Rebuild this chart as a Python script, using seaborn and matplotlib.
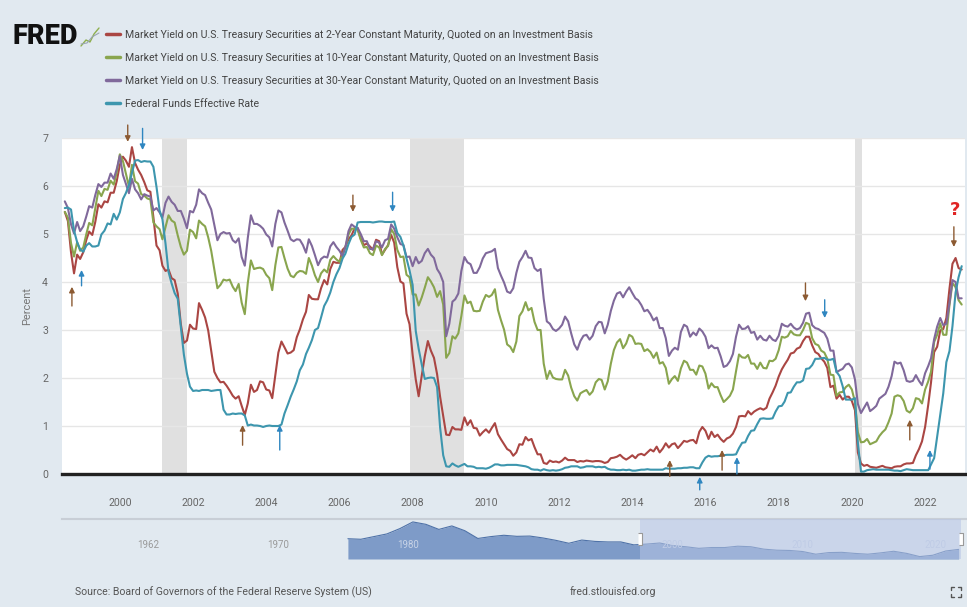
import numpy as np
import pandas as pd
import seaborn as sns
import matplotlib.pyplot as plt
import matplotlib.dates as mdates
from matplotlib.lines import Line2D

# -----------------------------
# monthly values, Jul 1998 .. Jan 2023 (percent)
# -----------------------------
start_month = "1998-07-01"

y2 = [5.46, 5.27, 4.62, 4.18, 4.57, 4.48,
      4.62, 4.88, 5.05, 4.98, 5.25, 5.62, 5.55, 5.68, 5.66, 5.86, 5.86, 6.10,
      6.44, 6.61, 6.53, 6.40, 6.81, 6.48, 6.34, 6.23, 6.08, 5.91, 5.88, 5.35,
      4.76, 4.66, 4.34, 4.23, 4.26, 4.08, 4.04, 3.76, 3.12, 2.73, 2.78, 3.11,
      3.03, 3.02, 3.56, 3.42, 3.26, 2.99, 2.56, 2.13, 2.00, 1.91, 1.92, 1.84,
      1.74, 1.63, 1.57, 1.62, 1.42, 1.23, 1.47, 1.86, 1.71, 1.75, 1.93, 1.91,
      1.76, 1.74, 1.58, 2.07, 2.53, 2.76, 2.64, 2.51, 2.53, 2.58, 2.85, 3.01,
      3.22, 3.38, 3.73, 3.65, 3.64, 3.64, 3.87, 4.04, 3.95, 4.27, 4.42, 4.40,
      4.40, 4.67, 4.73, 4.89, 4.97, 5.12, 5.12, 4.90, 4.77, 4.80, 4.74, 4.67,
      4.88, 4.85, 4.57, 4.67, 4.77, 4.98, 4.82, 4.31, 4.01, 3.97, 3.34, 3.12,
      2.48, 1.97, 1.62, 2.05, 2.45, 2.77, 2.57, 2.42, 2.08, 1.61, 1.21, 0.82,
      0.81, 0.98, 0.93, 0.93, 0.92, 1.18, 1.02, 1.12, 0.96, 0.95, 0.80, 0.87,
      0.93, 0.86, 0.96, 1.06, 0.83, 0.72, 0.62, 0.52, 0.48, 0.38, 0.45, 0.62,
      0.61, 0.77, 0.70, 0.73, 0.56, 0.41, 0.41, 0.23, 0.21, 0.28, 0.25, 0.26,
      0.24, 0.28, 0.34, 0.29, 0.29, 0.29, 0.25, 0.27, 0.26, 0.28, 0.27, 0.26,
      0.27, 0.27, 0.26, 0.23, 0.25, 0.33, 0.34, 0.36, 0.40, 0.34, 0.30, 0.34,
      0.39, 0.33, 0.40, 0.42, 0.39, 0.45, 0.51, 0.47, 0.57, 0.45, 0.53, 0.64,
      0.55, 0.62, 0.64, 0.54, 0.61, 0.69, 0.67, 0.70, 0.71, 0.64, 0.88, 0.98,
      0.90, 0.73, 0.88, 0.77, 0.82, 0.73, 0.67, 0.74, 0.77, 0.84, 0.98, 1.20,
      1.21, 1.20, 1.31, 1.24, 1.30, 1.34, 1.37, 1.34, 1.38, 1.57, 1.70, 1.84,
      2.03, 2.18, 2.28, 2.38, 2.51, 2.53, 2.61, 2.64, 2.77, 2.86, 2.86, 2.68,
      2.54, 2.50, 2.41, 2.34, 2.21, 1.81, 1.84, 1.57, 1.65, 1.55, 1.61, 1.61,
      1.52, 1.33, 0.45, 0.22, 0.17, 0.19, 0.15, 0.14, 0.13, 0.15, 0.17, 0.14,
      0.13, 0.12, 0.15, 0.16, 0.16, 0.20, 0.22, 0.22, 0.23, 0.39, 0.52, 0.68,
      0.98, 1.44, 1.91, 2.54, 2.65, 2.99, 3.02, 3.25, 3.86, 4.38, 4.50, 4.29,
      4.26]

y10 = [5.46, 5.34, 4.81, 4.53, 4.83, 4.65,
       4.72, 5.00, 5.23, 5.18, 5.54, 5.90, 5.79, 5.94, 5.92, 6.11, 6.03, 6.28,
       6.66, 6.52, 6.26, 5.99, 6.44, 6.10, 6.05, 5.83, 5.80, 5.74, 5.72, 5.24,
       5.16, 5.10, 4.89, 5.14, 5.39, 5.28, 5.24, 4.97, 4.73, 4.57, 4.65, 5.09,
       5.04, 4.91, 5.28, 5.21, 5.16, 4.93, 4.65, 4.26, 3.87, 3.94, 4.05, 4.03,
       4.05, 3.90, 3.81, 3.96, 3.57, 3.33, 3.98, 4.45, 4.27, 4.29, 4.30, 4.27,
       4.15, 4.08, 3.83, 4.35, 4.72, 4.73, 4.50, 4.28, 4.13, 4.10, 4.19, 4.23,
       4.22, 4.17, 4.50, 4.34, 4.14, 4.00, 4.18, 4.26, 4.20, 4.46, 4.54, 4.47,
       4.42, 4.57, 4.72, 4.99, 5.11, 5.11, 5.09, 4.88, 4.72, 4.73, 4.60, 4.56,
       4.76, 4.72, 4.56, 4.69, 4.75, 5.10, 5.00, 4.67, 4.52, 4.53, 4.15, 4.10,
       3.74, 3.74, 3.51, 3.68, 3.88, 4.10, 4.01, 3.89, 3.69, 3.81, 3.53, 2.42,
       2.52, 2.87, 2.82, 2.93, 3.29, 3.72, 3.56, 3.59, 3.40, 3.39, 3.40, 3.59,
       3.73, 3.69, 3.73, 3.85, 3.42, 3.20, 3.01, 2.70, 2.65, 2.54, 2.76, 3.29,
       3.39, 3.58, 3.41, 3.46, 3.17, 3.00, 3.00, 2.30, 1.98, 2.15, 2.01, 1.98,
       1.97, 1.97, 2.17, 2.05, 1.80, 1.62, 1.53, 1.68, 1.72, 1.75, 1.65, 1.72,
       1.91, 1.98, 1.96, 1.76, 1.93, 2.30, 2.58, 2.74, 2.81, 2.62, 2.72, 2.90,
       2.86, 2.71, 2.72, 2.71, 2.56, 2.60, 2.54, 2.42, 2.53, 2.30, 2.33, 2.21,
       1.88, 1.98, 2.04, 1.94, 2.20, 2.36, 2.32, 2.17, 2.17, 2.07, 2.26, 2.24,
       2.09, 1.78, 1.89, 1.81, 1.81, 1.64, 1.50, 1.56, 1.63, 1.76, 2.14, 2.49,
       2.43, 2.42, 2.48, 2.30, 2.30, 2.19, 2.32, 2.21, 2.20, 2.36, 2.35, 2.40,
       2.58, 2.86, 2.84, 2.87, 2.98, 2.91, 2.89, 2.89, 3.00, 3.15, 3.12, 2.83,
       2.71, 2.68, 2.57, 2.53, 2.40, 2.07, 2.06, 1.63, 1.70, 1.71, 1.81, 1.86,
       1.76, 1.50, 0.87, 0.66, 0.67, 0.73, 0.62, 0.65, 0.68, 0.79, 0.87, 0.93,
       1.08, 1.26, 1.61, 1.64, 1.62, 1.52, 1.32, 1.28, 1.37, 1.58, 1.56, 1.47,
       1.76, 1.93, 2.13, 2.75, 2.90, 3.14, 2.90, 2.90, 3.52, 3.98, 3.89, 3.62,
       3.53]

y30 = [5.68, 5.54, 5.20, 5.01, 5.25, 5.06,
       5.16, 5.37, 5.58, 5.55, 5.81, 6.04, 5.98, 6.07, 6.07, 6.26, 6.15, 6.35,
       6.63, 6.23, 6.05, 5.85, 6.15, 5.93, 5.85, 5.72, 5.83, 5.80, 5.78, 5.49,
       5.54, 5.45, 5.34, 5.65, 5.78, 5.67, 5.61, 5.48, 5.48, 5.32, 5.12, 5.48,
       5.45, 5.61, 5.93, 5.85, 5.81, 5.65, 5.51, 5.19, 4.87, 5.00, 5.04, 5.01,
       5.02, 4.87, 4.82, 4.91, 4.52, 4.34, 4.92, 5.39, 5.21, 5.21, 5.17, 5.11,
       4.99, 4.93, 4.74, 5.21, 5.49, 5.45, 5.24, 5.07, 4.89, 4.85, 4.89, 4.88,
       4.77, 4.61, 4.89, 4.75, 4.56, 4.35, 4.48, 4.53, 4.51, 4.74, 4.83, 4.73,
       4.65, 4.54, 4.73, 5.06, 5.20, 5.15, 5.13, 5.00, 4.85, 4.85, 4.69, 4.68,
       4.85, 4.82, 4.72, 4.87, 4.90, 5.20, 5.11, 4.93, 4.79, 4.77, 4.52, 4.53,
       4.33, 4.52, 4.39, 4.44, 4.60, 4.69, 4.57, 4.50, 4.27, 4.17, 4.00, 2.87,
       3.13, 3.59, 3.64, 3.76, 4.23, 4.52, 4.41, 4.37, 4.19, 4.19, 4.31, 4.49,
       4.60, 4.62, 4.64, 4.69, 4.29, 4.13, 3.99, 3.80, 3.77, 3.87, 4.19, 4.42,
       4.52, 4.65, 4.51, 4.50, 4.29, 4.23, 4.27, 3.65, 3.18, 3.13, 3.02, 2.98,
       3.03, 3.11, 3.28, 3.18, 2.93, 2.70, 2.59, 2.77, 2.88, 2.90, 2.80, 2.88,
       3.08, 3.17, 3.16, 2.93, 3.11, 3.40, 3.61, 3.76, 3.79, 3.68, 3.80, 3.89,
       3.77, 3.66, 3.62, 3.52, 3.39, 3.42, 3.33, 3.20, 3.26, 3.04, 3.04, 2.83,
       2.46, 2.57, 2.63, 2.59, 2.96, 3.11, 3.07, 2.86, 2.95, 2.89, 3.03, 2.97,
       2.86, 2.62, 2.68, 2.62, 2.63, 2.45, 2.23, 2.26, 2.35, 2.50, 2.86, 3.11,
       3.02, 3.03, 3.08, 2.94, 2.96, 2.80, 2.88, 2.80, 2.78, 2.88, 2.80, 2.77,
       2.88, 3.13, 3.09, 3.07, 3.13, 3.05, 3.01, 3.04, 3.15, 3.34, 3.36, 3.10,
       3.04, 3.02, 2.98, 2.94, 2.82, 2.57, 2.57, 2.12, 2.16, 2.19, 2.28, 2.30,
       2.22, 1.97, 1.46, 1.27, 1.38, 1.49, 1.31, 1.36, 1.42, 1.57, 1.62, 1.67,
       1.82, 2.04, 2.34, 2.30, 2.32, 2.16, 1.94, 1.92, 1.94, 2.06, 1.94, 1.85,
       2.10, 2.25, 2.41, 2.81, 3.07, 3.25, 3.10, 3.13, 3.56, 4.04, 4.00, 3.66,
       3.66]

ff = [5.54, 5.55, 5.51, 5.07, 4.83, 4.68,
      4.63, 4.76, 4.81, 4.74, 4.74, 4.76, 4.99, 5.07, 5.22, 5.20, 5.42, 5.30,
      5.45, 5.73, 5.85, 6.02, 6.27, 6.53, 6.54, 6.50, 6.52, 6.51, 6.51, 6.40,
      5.98, 5.49, 5.31, 4.80, 4.21, 3.97, 3.77, 3.65, 3.07, 2.49, 2.09, 1.82,
      1.73, 1.74, 1.73, 1.75, 1.75, 1.75, 1.73, 1.74, 1.75, 1.75, 1.34, 1.24,
      1.24, 1.26, 1.25, 1.26, 1.26, 1.22, 1.01, 1.03, 1.01, 1.01, 1.00, 0.98,
      1.00, 1.01, 1.00, 1.00, 1.00, 1.03, 1.26, 1.43, 1.61, 1.76, 1.93, 2.16,
      2.28, 2.50, 2.63, 2.79, 3.00, 3.04, 3.26, 3.50, 3.62, 3.78, 4.00, 4.16,
      4.29, 4.49, 4.59, 4.79, 4.94, 4.99, 5.24, 5.25, 5.25, 5.25, 5.25, 5.24,
      5.25, 5.26, 5.26, 5.25, 5.25, 5.25, 5.26, 5.02, 4.94, 4.76, 4.49, 4.24,
      3.94, 2.98, 2.61, 2.28, 1.98, 2.00, 2.01, 2.00, 1.81, 0.97, 0.39, 0.16,
      0.15, 0.22, 0.18, 0.15, 0.18, 0.21, 0.16, 0.16, 0.15, 0.12, 0.12, 0.12,
      0.11, 0.13, 0.16, 0.20, 0.20, 0.18, 0.18, 0.19, 0.19, 0.19, 0.19, 0.18,
      0.17, 0.16, 0.14, 0.10, 0.09, 0.09, 0.07, 0.10, 0.08, 0.07, 0.08, 0.07,
      0.08, 0.10, 0.13, 0.14, 0.16, 0.16, 0.16, 0.13, 0.14, 0.16, 0.16, 0.16,
      0.14, 0.15, 0.14, 0.15, 0.11, 0.09, 0.09, 0.08, 0.08, 0.09, 0.08, 0.09,
      0.07, 0.07, 0.08, 0.09, 0.09, 0.10, 0.09, 0.09, 0.09, 0.09, 0.09, 0.12,
      0.11, 0.11, 0.11, 0.12, 0.12, 0.13, 0.13, 0.14, 0.14, 0.12, 0.12, 0.24,
      0.34, 0.38, 0.36, 0.37, 0.37, 0.38, 0.39, 0.40, 0.40, 0.40, 0.41, 0.54,
      0.65, 0.66, 0.79, 0.90, 0.91, 1.04, 1.15, 1.16, 1.15, 1.15, 1.16, 1.30,
      1.41, 1.42, 1.51, 1.69, 1.70, 1.82, 1.91, 1.91, 1.95, 2.19, 2.20, 2.27,
      2.40, 2.40, 2.41, 2.42, 2.38, 2.38, 2.40, 2.13, 2.04, 1.83, 1.55, 1.55,
      1.55, 1.58, 0.65, 0.05, 0.05, 0.08, 0.09, 0.10, 0.09, 0.09, 0.09, 0.09,
      0.09, 0.08, 0.07, 0.07, 0.06, 0.08, 0.10, 0.09, 0.08, 0.08, 0.08, 0.08,
      0.08, 0.08, 0.20, 0.33, 0.77, 1.21, 1.68, 2.33, 2.56, 3.08, 3.78, 4.10,
      4.33]

series_names = [
    "Market Yield on U.S. Treasury Securities at 2-Year Constant Maturity, Quoted on an Investment Basis",
    "Market Yield on U.S. Treasury Securities at 10-Year Constant Maturity, Quoted on an Investment Basis",
    "Market Yield on U.S. Treasury Securities at 30-Year Constant Maturity, Quoted on an Investment Basis",
    "Federal Funds Effective Rate",
]
series_colors = ["#aa4643", "#89a54e", "#80699b", "#3d96ae"]

recessions = [("2001-03-01", "2001-10-31"), ("2007-12-01", "2009-06-01"),
              ("2020-02-01", "2020-04-15")]

# annotation arrows: date, head value, tail value, colour key
arrow_dates = ["1998-09-10", "1998-12-15", "2000-03-20", "2000-08-15",
               "2003-05-10", "2004-05-15", "2006-05-15", "2007-06-15",
               "2015-01-10", "2015-11-05", "2016-06-15", "2016-11-10",
               "2018-09-25", "2019-04-05", "2021-08-01", "2022-02-18",
               "2022-10-15"]
arrow_head = [3.90, 4.25, 6.92, 6.75, 1.02, 1.02, 5.46, 5.46,
              0.29, -0.06, 0.50, 0.35, 3.60, 3.25, 1.13, 0.50, 4.73]
arrow_tail = [3.50, 3.92, 7.27, 7.20, 0.60, 0.50, 5.81, 5.87,
              -0.05, -0.33, 0.08, 0.00, 3.98, 3.63, 0.71, 0.10, 5.15]
arrow_kind = ["b", "c", "b", "c", "b", "c", "b", "c",
              "b", "c", "b", "c", "b", "c", "b", "c", "b"]
question_date, question_value = "2022-10-22", 5.50

# navigator (long history, yearly)
nav_years = list(range(1976, 2024))
nav_values = [7.6, 7.4, 8.4, 9.4, 11.4, 13.9, 13.0, 11.1, 12.4, 10.6,
              7.7, 8.4, 8.9, 8.5, 8.6, 7.9, 7.0, 5.9, 7.1, 6.6,
              6.4, 6.4, 5.3, 5.6, 6.0, 5.0, 4.6, 4.0, 4.3, 4.3,
              4.8, 4.6, 3.7, 3.3, 3.2, 2.8, 1.8, 2.4, 2.5, 2.1,
              1.8, 2.3, 2.9, 2.1, 0.9, 1.4, 3.0, 3.6]
nav_label_pos = [1960.6, 1970.6, 1980.6, 2001.0, 2011.0, 2021.2]
nav_label_txt = ["1962", "1970", "1980", "2000", "2010", "2020"]

# -----------------------------
bg = "#e1e9f0"
sns.set_style("white")
narrow = ["Liberation Sans Narrow", "Roboto", "DejaVu Sans"]
plt.rcParams["font.family"] = narrow

months = pd.date_range(start_month, periods=len(y2), freq="MS")
df = pd.concat([pd.DataFrame({"date": months, "value": vals, "series": name})
                for name, vals in zip(series_names, [y2, y10, y30, ff])])

fig = plt.figure(figsize=(9.67, 6.07), dpi=100, facecolor=bg)
ax = fig.add_axes([62 / 967, 133 / 607, 903 / 967, 336 / 607])
ax.set_facecolor("white")

for s, e in recessions:
    ax.axvspan(pd.Timestamp(s), pd.Timestamp(e), color="#e0e0e0", lw=0, zorder=0)

sns.lineplot(data=df, x="date", y="value", hue="series", hue_order=series_names,
             palette=series_colors, linewidth=1.5, legend=False, ax=ax, zorder=3)

ax.set_xlim(pd.Timestamp("1998-06-03"), pd.Timestamp("2023-02-03"))
ax.set_ylim(0, 7)
ax.set_yticks(range(0, 8))
ax.yaxis.grid(True, color="#e6e6e6", lw=1)
ax.set_axisbelow(True)
ax.xaxis.set_major_locator(mdates.YearLocator(2))
ax.xaxis.set_major_formatter(mdates.DateFormatter("%Y"))
ax.tick_params(axis="both", length=0, colors="#666666", labelsize=7.6)
ax.tick_params(axis="x", pad=17)
ax.tick_params(axis="y", pad=10)
for side in ["top", "right", "left"]:
    ax.spines[side].set_visible(False)
ax.spines["bottom"].set_color("#222222")
ax.spines["bottom"].set_linewidth(2.4)
ax.spines["bottom"].set_zorder(4)
ax.set_xlabel("")
ax.set_ylabel("Percent", color="#777777", fontsize=8, labelpad=7)

arrow_colors = {"b": "#8c5a32", "c": "#2f86c0"}
for d, h, t, k in zip(arrow_dates, arrow_head, arrow_tail, arrow_kind):
    ax.annotate("", xy=(pd.Timestamp(d), h), xytext=(pd.Timestamp(d), t),
                arrowprops=dict(arrowstyle="-|>", color=arrow_colors[k], lw=1,
                                mutation_scale=8, shrinkA=0, shrinkB=0),
                annotation_clip=False, zorder=5)
ax.text(pd.Timestamp(question_date), question_value, "?", color="#e02424",
        fontsize=13, fontweight="bold", ha="center", va="center",
        family=["DejaVu Sans"], zorder=5)

# legend / logo
handles = [Line2D([], [], color=c, lw=2.5) for c in series_colors]
fig.legend(handles, series_names, loc="upper left", bbox_to_anchor=(106 / 967, 1 - 30 / 607),
           frameon=False, borderpad=0, borderaxespad=0, handlelength=1.3,
           handletextpad=0.5, labelspacing=1.22, fontsize=7.6, labelcolor="#444444")
fig.text(13 / 967, 1 - 36 / 607, "FRED", fontsize=19.5, fontweight="heavy",
         color="#111111", va="center", ha="left")
fig.lines.append(Line2D([81 / 967, 86 / 967, 90 / 967, 94 / 967, 99 / 967],
                        [1 - 46 / 607, 1 - 40 / 607, 1 - 42 / 607, 1 - 34 / 607, 1 - 28 / 607],
                        transform=fig.transFigure, color="#8fb04f", lw=1))
fig.lines.append(Line2D([81 / 967, 87 / 967, 92 / 967, 99 / 967],
                        [1 - 44 / 607, 1 - 43 / 607, 1 - 37 / 607, 1 - 33 / 607],
                        transform=fig.transFigure, color="#9aa6b2", lw=0.8))

# navigator
nav = fig.add_axes([62 / 967, 48 / 607, 905 / 967, 40 / 607])
nav.set_facecolor("none")
nav.set_xlim(1954.0, 2023.64)
nav.set_ylim(0, 15)
sns.lineplot(x=nav_years, y=nav_values, color="#4f72a8", lw=0.8, ax=nav, zorder=2)
nav.fill_between(nav_years, nav_values, color="#6d8ec2", alpha=0.85, lw=0, zorder=1)
nav.axvspan(1998.5, 2023.15, color="#b8c6e6", alpha=0.55, lw=0, zorder=3)
for x in [1998.5, 2023.15]:
    nav.plot([x], [7.5], marker=[(-1, -3), (1, -3), (1, 3), (-1, 3)], ms=9,
             mfc="white", mec="#999999", mew=0.8, zorder=4, clip_on=False)
for i, (p, t) in enumerate(zip(nav_label_pos, nav_label_txt)):
    nav.text(p, 0.35, t, transform=nav.get_xaxis_transform(), ha="center", va="center",
             fontsize=7, color="#9a9a9a" if i < 2 else "#c8d3e6", zorder=2.5)
nav.set_xticks([])
nav.set_yticks([])
nav.set_xlabel("")
for side in ["right", "left", "bottom"]:
    nav.spines[side].set_visible(False)
nav.spines["top"].set_color("#c8ced6")
nav.spines["top"].set_linewidth(1.5)

# footer
fig.text(75 / 967, 1 - 592 / 607, "Source: Board of Governors of the Federal Reserve System (US)",
         fontsize=7.6, color="#555555", va="center")
fig.text(570 / 967, 1 - 592 / 607, "fred.stlouisfed.org", fontsize=7.6, color="#555555", va="center")
cx, cy, r, g = 956 / 967, 1 - 592 / 607, 5 / 967, 5 / 607
for sx in (-1, 1):
    for sy in (-1, 1):
        fig.lines.append(Line2D([cx + sx * r, cx + sx * r, cx + sx * r * 0.4],
                                [cy + sy * g * 0.4, cy + sy * g, cy + sy * g],
                                transform=fig.transFigure, color="#555555", lw=1))

fig.savefig("out.png", dpi=100, facecolor=bg)
